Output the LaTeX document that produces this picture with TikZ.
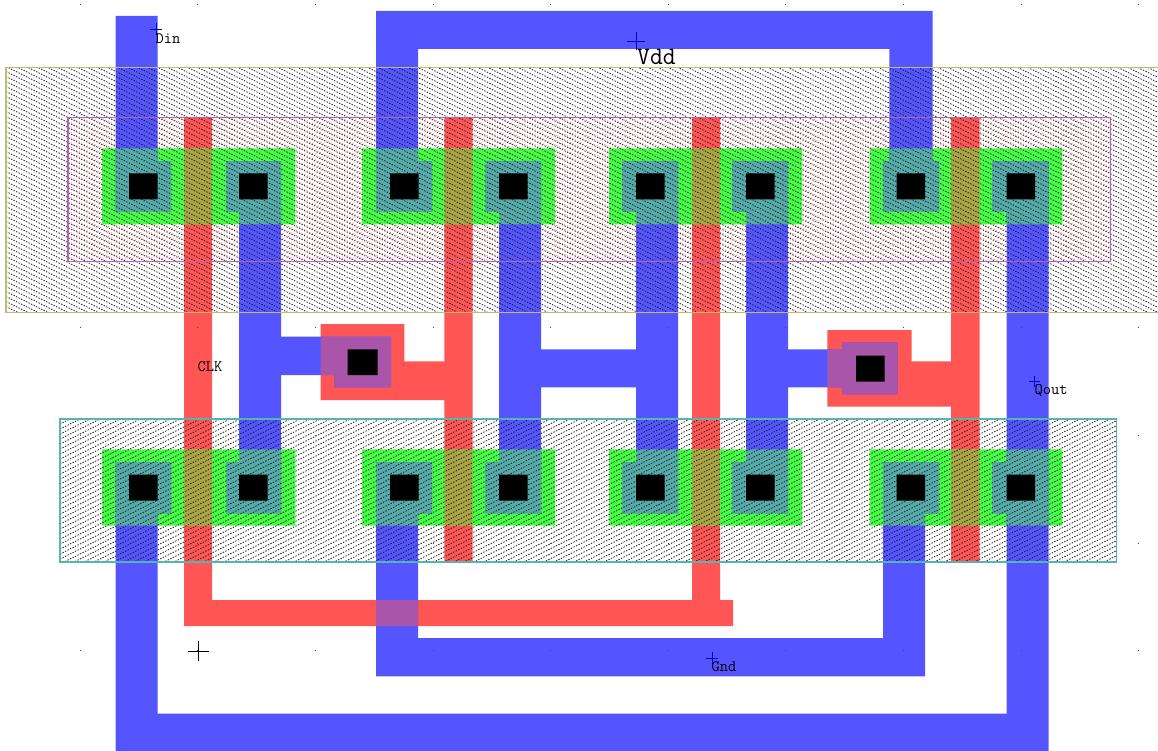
\documentclass[tikz,border=0pt]{standalone}
\usepackage{fontspec}
\definecolor{mblue}{HTML}{5555FF}
\definecolor{pred}{HTML}{FF5555}
\definecolor{dgreen}{HTML}{44FF44}
\definecolor{cteal}{HTML}{55AAAA}
\definecolor{colive}{HTML}{AAA544}
\definecolor{cpurple}{HTML}{A855AA}
\definecolor{welledge}{HTML}{BDBD70}
\definecolor{seledge}{HTML}{B860B8}
\definecolor{lowedge}{HTML}{55B5B0}
\def\metalpath{
 (115.5,16) rectangle (157.5,161.5)
 (115.5,513) rectangle (157.5,751)
 (115.5,713.5) rectangle (1048.7,751)
 (1006.7,212) rectangle (1048.7,751)
 (239,212) rectangle (281,462)
 (281,336.7) rectangle (334.3,375)
 (334.3,336.7) rectangle (391,387.3)
 (376,11) rectangle (418,161.5)
 (376,11) rectangle (932.7,49)
 (889.3,11) rectangle (932.7,161.5)
 (376,513) rectangle (418,676.3)
 (376,638) rectangle (925,676.3)
 (883,513) rectangle (925,676.3)
 (499,212) rectangle (541,462)
 (541,349.3) rectangle (636,387.3)
 (636,212) rectangle (678,462)
 (746,212) rectangle (788,462)
 (788,349.3) rectangle (842.3,387.3)
 (842.3,342.3) rectangle (897.7,394.3)
 (115.5,161.5) rectangle (171,212) (226,161.5) rectangle (281,212)
 (376,161.5) rectangle (432,212) (485.5,161.5) rectangle (541,212)
 (622,161.5) rectangle (678,212) (732,161.5) rectangle (788,212)
 (883.3,161.5) rectangle (939,212) (992,161.5) rectangle (1048.7,212)
 (115.5,462.3) rectangle (171,513.3) (226,462.3) rectangle (281,513.3)
 (376,462.3) rectangle (432,513.3) (485.5,462.3) rectangle (541,513.3)
 (622,462.3) rectangle (678,513.3) (732,462.3) rectangle (788,513.3)
 (883,462.3) rectangle (939,513.3) (992,462.3) rectangle (1048.7,513.3)
}
\def\polypath{
 (184,117.5) rectangle (212,626)
 (184,600) rectangle (733,626)
 (444.3,117.5) rectangle (472.7,562)
 (692,117.5) rectangle (720,600)
 (951,117.5) rectangle (979.7,562)
 (320.7,324) rectangle (404.3,400)
 (404.3,361.3) rectangle (444.3,400)
 (827.3,330) rectangle (911.7,406.7)
 (911.7,361.3) rectangle (951,406.7)
}
\def\diffpath{
 (102,148.5) rectangle (295.3,224.5) (362,148.5) rectangle (555,224.5)
 (609,148.5) rectangle (802,224.5) (869.5,148.5) rectangle (1062.3,224.5)
 (102,449.3) rectangle (295.3,525.6) (362,449.3) rectangle (555,525.6)
 (609,449.3) rectangle (802,525.6) (869.5,449.3) rectangle (1062.3,525.6)
}
% hatch: clip box x1 y1 x2 y2, slope, spacing, style
\newcommand\hatchbox[7]{%
 \begin{scope}
  \clip (#1,#2) rectangle (#3,#4);
  \pgfmathsetmacro{\hw}{#3-#1}
  \pgfmathsetmacro{\hrise}{\hw*abs(#5)}
  \pgfmathsetmacro{\hn}{int((#4-#2+\hrise)/#6)}
  \foreach \k in {0,...,\hn}{
    \pgfmathsetmacro{\ya}{(#5>0 ? #2-\hrise : #2)+\k*#6}
    \pgfmathsetmacro{\yb}{\ya+\hw*#5}
    \draw[#7] (#1,\ya) -- (#3,\yb);
  }
 \end{scope}}
\tikzset{
 wellhatch/.style={black!90,line width=.7pt,dash pattern=on 1.4pt off 1.4pt},
 selhatch/.style={pred!75,line width=.8pt,dash pattern=on 1pt off 2pt},
 lab/.style={inner sep=0pt,anchor=west,text=black,font=\ttfamily\fontsize{16}{17}\selectfont},
 pin/.style={draw=#1,line width=.8pt},
 griddot/.style={fill=black!70}
}
\begin{document}
\begin{tikzpicture}[x=1pt,y=-1pt]
\useasboundingbox (0,0) rectangle (1158,751);
\fill[white] (0,0) rectangle (1158,751);
% select dots under everything
\hatchbox{68}{117.5}{1110.5}{261.5}{0.5}{5}{selhatch}
% poly and diffusion
\fill[pred] \polypath;
\fill[dgreen] \diffpath;
\begin{scope}\clip \diffpath; \fill[colive] \polypath; \end{scope}
% metal
\fill[mblue] \metalpath;
\begin{scope}\clip \diffpath; \fill[cteal] \metalpath; \end{scope}
\begin{scope}\clip \metalpath; \fill[cpurple] \polypath; \end{scope}
% hatches of the wells
\hatchbox{6}{67.5}{1158}{312.5}{0.5}{5}{wellhatch}
\hatchbox{60}{419}{1116.5}{562}{-0.5}{5}{wellhatch}
% contacts
\fill[black]
 (129,173.5) rectangle +(28.5,26) (239,173.5) rectangle +(28.5,26)
 (390,173.5) rectangle +(28.5,26) (499,173.5) rectangle +(28.5,26)
 (636,173.5) rectangle +(28.5,26) (746,173.5) rectangle +(28.5,26)
 (896.7,173.5) rectangle +(28.5,26) (1006.7,173.5) rectangle +(28.5,26)
 (129,474.5) rectangle +(28.5,26) (239,474.5) rectangle +(28.5,26)
 (390,474.5) rectangle +(28.5,26) (499,474.5) rectangle +(28.5,26)
 (636,474.5) rectangle +(28.5,26) (746,474.5) rectangle +(28.5,26)
 (896.7,474.5) rectangle +(28.5,26) (1006.7,474.5) rectangle +(28.5,26)
 (347.7,349.3) rectangle (377.7,375)
 (856,355.7) rectangle (884.7,381.7);
% outlines
\draw[welledge,line width=1.3pt] (6,67.5) -- (1158,67.5) (6,67.5) -- (6,312.5) -- (1158,312.5);
\draw[seledge,line width=1.2pt] (68,117.5) rectangle (1110.5,261.5);
\draw[lowedge,line width=1.3pt] (60,419) rectangle (1116.5,562);
% grid dots
\foreach \gx in {80,197.7,315.3,433,550.6,668.2,785.8,903.4,1021,1138.6}
 \foreach \gy in {5,112.6,220.2,327.8,435.4,543,650.6}
  \fill[griddot] (\gx-.5,\gy-.5) rectangle +(1,1);
% pins
\draw[pin=blue!80!black] (150,29) -- (162,29) (156,23) -- (156,35);
\draw[pin=blue!80!black] (627,41) -- (645,41) (636,32) -- (636,50);
\draw[pin=blue!80!black] (1029,381) -- (1040,381) (1034.5,376) -- (1034.5,387);
\draw[pin=blue!80!black] (706,658) -- (718,658) (712,652) -- (712,664);
\draw[pin=black] (187.5,651) -- (208.5,651) (198,641) -- (198,661);
% labels
\node[lab] (din) at (155.5,38.5) {Din};
\node[lab,font=\ttfamily\fontsize{25}{26}\selectfont] (vdd) at (637,56.5) {Vdd};
\node[lab] (clk) at (197.5,366.5) {CLK};
\node[lab] (qout) at (1034.5,391) {Qout};
\node[lab] (gnd) at (711.5,667) {Gnd};
\end{tikzpicture}
\end{document}
